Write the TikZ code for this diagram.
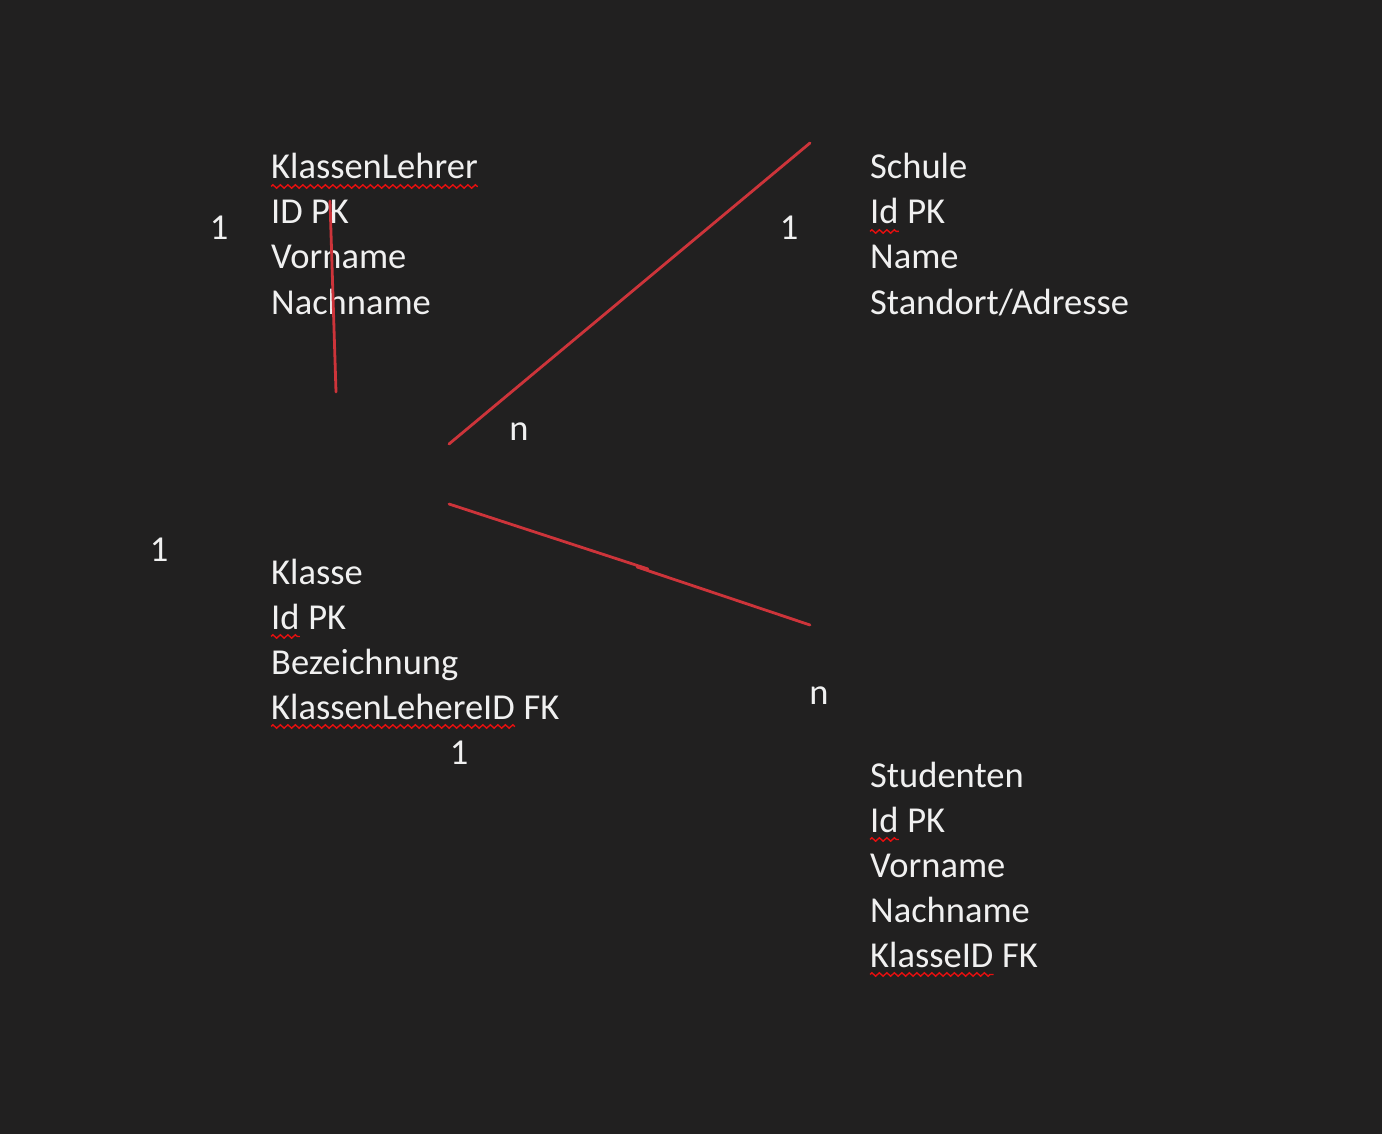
\documentclass[tikz,border=0pt]{standalone}
\usepackage{fontspec}
\setmainfont{Carlito}
\usepackage{xcolor}
\usepackage{tikz}
\usetikzlibrary{calc,decorations.pathmorphing}
\definecolor{bgdark}{RGB}{33,32,32}
\definecolor{txt}{RGB}{240,240,240}
\definecolor{relred}{RGB}{205,52,58}
\definecolor{spellred}{RGB}{230,15,15}
\newcommand{\erfont}{\fontsize{36.5}{44}\selectfont}

\begin{document}
\begin{tikzpicture}[x=1pt,y=-1pt,
  attr/.style={anchor=base west,inner sep=0pt,text=txt,font=\erfont},
  card/.style={anchor=base,inner sep=0pt,text=txt,font=\erfont},
  rel/.style={draw=relred,line width=2.8pt,line cap=round},
  squig/.style={draw=spellred,line width=1.4pt,decorate,
    decoration={zigzag,segment length=7.5pt,amplitude=1.7pt}}]
  \fill[bgdark] (0,0) rectangle (1382,1134);
  \useasboundingbox (0,0) rectangle (1382,1134);
  % KlassenLehrer
  \node[attr] (lehrer) at (271,179) {KlassenLehrer};
  \foreach \t [count=\i] in {ID PK,Vorname,Nachname}
    \node[attr] (lehrer\i) at (271,179+45*\i) {\t};
  % Schule
  \node[attr] (schule) at (870,179) {Schule};
  \node[attr] (schuleId) at (870,224) {Id};
  \node[attr] (schulePk) at ([xshift=8.3pt]schuleId.base east) {PK};
  \node[attr] (schule2) at (870,269) {Name};
  \node[attr] (schule3) at (870,314) {Standort/Adresse};
  % Klasse
  \node[attr] (klasse) at (271,584) {Klasse};
  \node[attr] (klasseId) at (271,629) {Id};
  \node[attr] (klassePk) at ([xshift=8.3pt]klasseId.base east) {PK};
  \node[attr] (klasse2) at (271,674) {Bezeichnung};
  \node[attr] (klasseFkId) at (271,719) {KlassenLehereID};
  \node[attr] (klasseFk) at ([xshift=8.3pt]klasseFkId.base east) {FK};
  % Studenten
  \node[attr] (stud) at (870,787) {Studenten};
  \node[attr] (studId) at (870,832) {Id};
  \node[attr] (studPk) at ([xshift=8.3pt]studId.base east) {PK};
  \node[attr] (stud2) at (870,877) {Vorname};
  \node[attr] (stud3) at (870,922) {Nachname};
  \node[attr] (studFkId) at (870,967) {KlasseID};
  \node[attr] (studFk) at ([xshift=8.3pt]studFkId.base east) {FK};
  \foreach \w in {lehrer,schuleId,klasseId,klasseFkId,studId,studFkId}
    \draw[squig] ([yshift=-7pt]\w.south west) -- ([yshift=-7pt]\w.south east);
  % Kardinalitaeten
  \node[card] (c1) at (219,240) {1};
  \node[card] (c2) at (789,240) {1};
  \node[card] (c3) at (519,440) {n};
  \node[card] (c4) at (159,561) {1};
  \node[card] (c5) at (819,704) {n};
  \node[card] (c6) at (459,764) {1};
  % Beziehungen
  \coordinate (lA) at (330,201);
  \coordinate (lB) at (336,392);
  \coordinate (sA) at (449,444);
  \coordinate (sB) at (810,143);
  \coordinate (kA) at (449,504);
  \coordinate (kM) at (648,569);
  \coordinate (kN) at (637,567);
  \coordinate (kB) at (810,625);
  \draw[rel] (lA) -- (lB);
  \draw[rel] (sA) -- (sB);
  \draw[rel] (kA) -- (kM);
  \draw[rel] (kN) -- (kB);
\end{tikzpicture}
\end{document}
